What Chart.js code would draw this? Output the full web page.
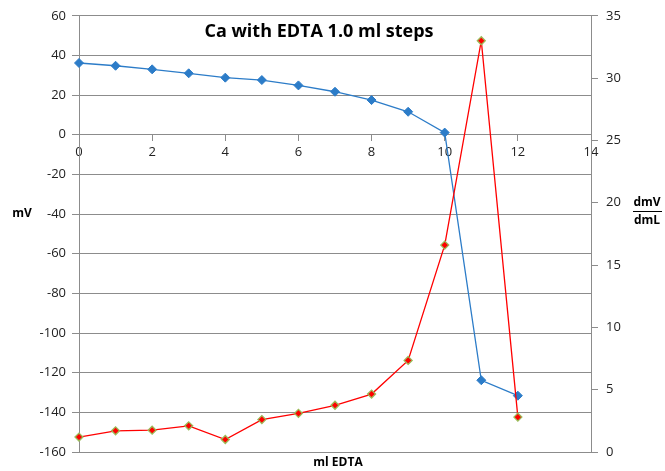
<!DOCTYPE html>
<html>
<head>
<meta charset="utf-8">
<script src="https://cdn.jsdelivr.net/npm/chart.js@4/dist/chart.umd.min.js"></script>
<style>
  html, body { margin: 0; padding: 0; background: #ffffff; }
  #wrap { width: 665px; height: 471px; position: relative; }
</style>
</head>
<body>
<div id="wrap"><canvas id="c" width="665" height="471"></canvas></div>
<script>
// ---- data ----
const mlEdta = [0, 1, 2, 3, 4, 5, 6, 7, 8, 9, 10, 11, 12];
const mV = [36.2, 34.8, 33.0, 31.0, 28.8, 27.6, 24.9, 21.7, 17.5, 11.6, 1.1, -123.8, -131.6];
const dmVdmL = [1.2, 1.7, 1.75, 2.1, 1.0, 2.6, 3.1, 3.75, 4.65, 7.35, 16.6, 33.0, 2.8];
const xTicks = [0, 2, 4, 6, 8, 10, 12, 14];
const leftTicks = [-160, -140, -120, -100, -80, -60, -40, -20, 0, 20, 40, 60];
const rightTicks = [0, 5, 10, 15, 20, 25, 30, 35];

const titleText = 'Ca with EDTA 1.0 ml steps';
const xTitle = 'ml EDTA';
const yTitle = 'mV';
const y1TitleTop = 'dmV';
const y1TitleBottom = 'dmL';

const FONT = "'Open Sans', 'Noto Sans', sans-serif";
const gridColor = '#8c8c8c';

const textPlugin = {
  id: 'texts',
  afterDraw(chart) {
    const ctx = chart.ctx;
    ctx.save();
    ctx.fillStyle = '#000';
    ctx.textAlign = 'center';
    ctx.textBaseline = 'middle';
    ctx.font = 'bold 18px ' + FONT;
    ctx.fillText(titleText, 319, 32);
    ctx.font = 'bold 12px ' + FONT;
    ctx.fillText(xTitle, 338, 463);
    ctx.fillText(yTitle, 22, 214);
    ctx.fillText(y1TitleTop, 647, 203);
    ctx.fillText(y1TitleBottom, 647, 221);
    ctx.strokeStyle = '#000';
    ctx.lineWidth = 1;
    ctx.beginPath();
    ctx.moveTo(633, 211.5);
    ctx.lineTo(662, 211.5);
    ctx.stroke();
    ctx.restore();
  }
};

new Chart(document.getElementById('c'), {
  type: 'line',
  data: {
    datasets: [
      {
        label: 'dmV/dmL',
        data: mlEdta.map((x, i) => ({ x: x, y: dmVdmL[i] })),
        yAxisID: 'y1',
        borderColor: '#ff0000',
        borderWidth: 1.3,
        backgroundColor: '#ff0000',
        pointStyle: 'rectRot',
        pointRadius: 4,
        pointBorderColor: '#9bbb59',
        pointBorderWidth: 1.3,
        pointBackgroundColor: '#ff0000',
        tension: 0,
        clip: false
      },
      {
        label: 'mV',
        data: mlEdta.map((x, i) => ({ x: x, y: mV[i] })),
        yAxisID: 'y',
        borderColor: '#2c7cc8',
        borderWidth: 1.3,
        backgroundColor: '#2c7cc8',
        pointStyle: 'rectRot',
        pointRadius: 4.5,
        pointBorderColor: '#2c7cc8',
        pointBorderWidth: 1,
        pointBackgroundColor: '#2c7cc8',
        tension: 0,
        clip: false
      }
    ]
  },
  options: {
    responsive: false,
    animation: false,
    layout: { padding: { left: 0, right: 0, top: 15, bottom: 19 } },
    plugins: {
      legend: { display: false },
      tooltip: { enabled: false },
      title: { display: false }
    },
    scales: {
      x: {
        type: 'linear',
        position: { y: 0 },
        min: 0,
        max: 14,
        afterBuildTicks(scale) { scale.ticks = xTicks.map(v => ({ value: v })); },
        ticks: {
          font: { family: FONT, size: 13 },
          color: '#222',
          padding: 4,
          maxRotation: 0,
          autoSkip: false
        },
        grid: {
          drawOnChartArea: false,
          drawTicks: true,
          tickLength: 6,
          color: gridColor
        },
        border: { display: true, color: gridColor, width: 1 }
      },
      y: {
        type: 'linear',
        position: 'left',
        min: -160,
        max: 60,
        afterBuildTicks(scale) { scale.ticks = leftTicks.map(v => ({ value: v })); },
        afterFit(scale) { scale.width = 79; },
        ticks: {
          font: { family: FONT, size: 13 },
          color: '#222',
          padding: 6
        },
        grid: {
          color: gridColor,
          lineWidth: 1,
          tickLength: 7
        },
        border: { display: true, color: gridColor, width: 1 }
      },
      y1: {
        type: 'linear',
        position: 'right',
        min: 0,
        max: 35,
        afterBuildTicks(scale) { scale.ticks = rightTicks.map(v => ({ value: v })); },
        afterFit(scale) { scale.width = 665 - 591; },
        ticks: {
          font: { family: FONT, size: 13 },
          color: '#222',
          padding: 8
        },
        grid: {
          drawOnChartArea: false,
          color: gridColor,
          tickLength: 7
        },
        border: { display: true, color: gridColor, width: 1 }
      }
    }
  },
  plugins: [textPlugin]
});
</script>
</body>
</html>
